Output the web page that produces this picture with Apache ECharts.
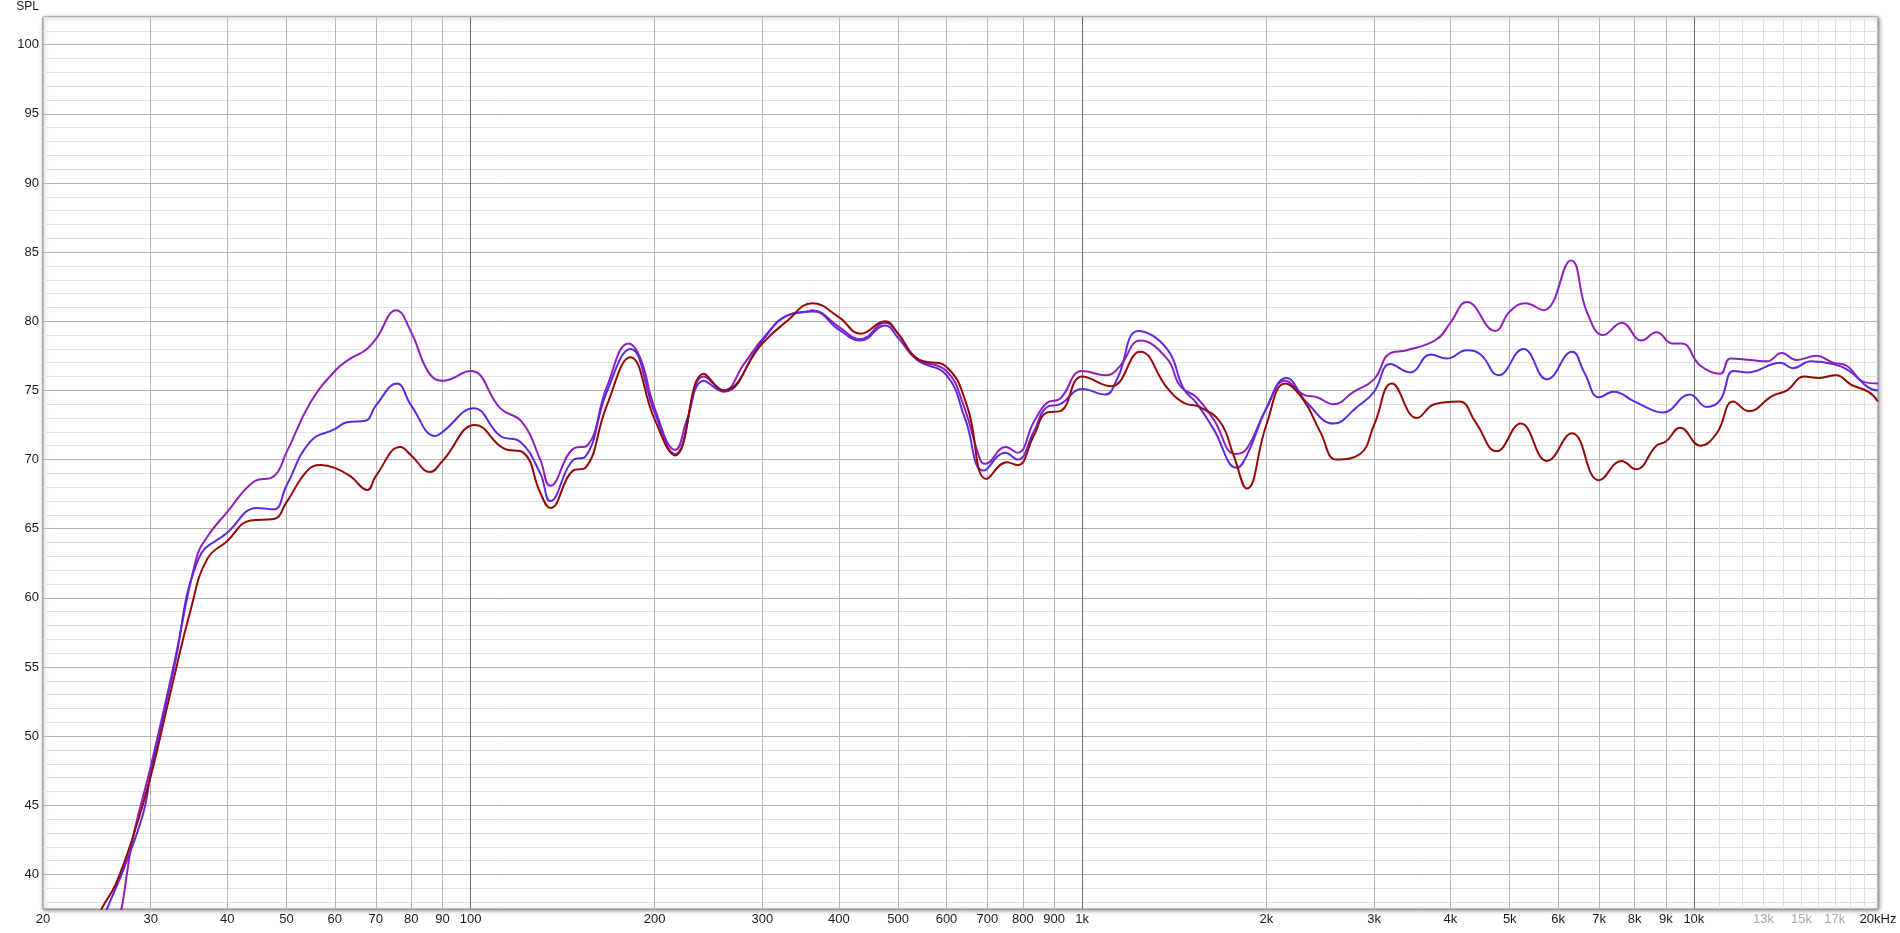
<!DOCTYPE html>
<html>
<head>
<meta charset="utf-8">
<script src="https://cdn.jsdelivr.net/npm/echarts@6/dist/echarts.min.js"></script>
<style>
html,body{margin:0;padding:0;background:#fff;}
#chart{width:1900px;height:933px;}
</style>
</head>
<body>
<div id="chart"></div>
<script>
// ---- data: [frequency Hz, SPL dB] ----
var purpleCurve = [
 [26.0,35.0],[26.9,37.6],[27.4,39.9],[28.1,42.8],[30,47.8],[32.6,54.8],[35.6,62.8],[37.1,64.4],
 [40,66.2],[44.2,68.4],[47.7,68.8],[50,70.5],[54.7,74.1],[60,76.4],[63.6,77.3],[67.3,77.9],
 [70,78.7],[75.6,80.8],[80,79.2],[85.4,76.3],[90,75.7],[100,76.4],[111.9,73.7],[121.4,72.7],
 [130,70.0],[135,68.1],[147.4,70.8],[155,71.0],[167.2,75.3],[181.4,78.4],[189.6,77.3],[200,73.7],
 [216.2,70.7],[225.9,72.9],[240.6,76.0],[259.4,75.0],[279.8,76.9],[300,78.7],[329,80.4],[355,80.7],
 [362,80.8],[400,79.6],[434,78.7],[476.6,79.9],[500,79.1],[537,77.3],[600,76.4],[640,73.9],
 [681,70.0],[694,69.7],[749,70.9],[784,70.5],[833,72.7],[876,74.1],[920,74.4],[1000,76.4],
 [1095,76.1],[1150,76.7],[1244,78.6],[1376,77.3],[1447,75.3],[1537,74.5],[1640,72.9],[1780,70.4],
 [1859,70.8],[2000,73.7],[2147,75.7],[2301,74.7],[2421,74.5],[2576,74.0],[2777,74.9],[3000,75.8],
 [3189,77.7],[3395,77.9],[3800,78.7],[4000,79.9],[4256,81.4],[4733,79.3],[5000,80.7],[5300,81.3],
 [5679,80.8],[6297,84.4],[6682,80.7],[7114,79.0],[7620,79.9],[8212,78.6],[8685,79.2],[9233,78.4],
 [9555,78.4],[10240,76.8],[11040,76.2],[11470,77.3],[12350,77.2],[13162,77.1],[13922,77.7],
 [14720,77.2],[15870,77.5],[16890,77.0],[17750,76.8],[19000,75.6],[20000,75.5]
];
var blueCurve = [
 [24.5,35.5],[25.5,37.6],[27.1,40.4],[29.2,44.5],[30,47.3],[32.7,54.8],[35.9,62.8],[40,64.7],
 [44.8,66.5],[47.7,66.4],[50,68.1],[54.7,71.3],[60,72.2],[62.8,72.7],[67.3,72.8],[70,73.9],
 [75.8,75.5],[80,73.9],[87.6,71.7],[90,72.0],[101.2,73.7],[111.9,71.7],[120.4,71.3],[130,69.0],
 [135,67.0],[147.4,70.0],[154,70.2],[167,74.9],[182.5,78.0],[200,73.4],[216,70.4],[240.6,75.7],
 [259,74.9],[300,78.6],[333,80.5],[364,80.7],[400,79.4],[434,78.6],[476,79.7],[500,78.8],
 [537,77.2],[600,76.1],[644,72.9],[690,69.2],[749,70.5],[784,70.0],[833,72.0],[876,73.8],
 [920,74.0],[1000,75.1],[1090,74.7],[1140,75.8],[1236,79.3],[1376,78.0],[1466,75.1],[1537,74.1],
 [1640,72.2],[1790,69.4],[1859,70.3],[2000,73.7],[2157,75.9],[2331,74.1],[2576,72.6],[2814,73.8],
 [3000,74.9],[3189,76.9],[3436,76.3],[3713,77.6],[3940,77.3],[4256,77.9],[4480,77.6],[4793,76.1],
 [5264,78.0],[5752,75.8],[6320,77.8],[6620,76.3],[7000,74.5],[7390,74.9],[7990,74.2],[8630,73.5],
 [8900,73.4],[9850,74.7],[10500,73.8],[11040,74.3],[11610,76.4],[12200,76.3],[13870,77.0],
 [14500,76.6],[15540,77.1],[16890,76.9],[17950,76.4],[19300,75.2],[20000,75.0]
];
var redCurve = [
 [24,35.8],[25.0,37.6],[26.3,39.3],[28.1,42.8],[30,47.1],[32.3,53.1],[34.9,59.2],[37.1,62.8],
 [40,64.1],[43.7,65.6],[47.7,65.7],[50,66.9],[54.1,69.2],[56.9,69.6],[60,69.4],[63.6,68.8],
 [67.8,67.8],[70,68.8],[76.8,70.9],[80,70.3],[85.9,69.1],[90,69.9],[101.8,72.5],[113.3,70.8],
 [122,70.5],[130,67.6],[135,66.5],[147,69.2],[154,69.4],[167,73.9],[182.5,77.4],[200,72.9],
 [216,70.3],[240.6,76.2],[259,75.0],[300,78.4],[329,80.0],[362,81.3],[400,80.3],[434,79.1],
 [476,80.0],[500,79.1],[537,77.3],[600,76.7],[648,73.9],[698,68.6],[753,69.8],[784,69.6],
 [833,71.7],[876,73.4],[920,73.5],[1000,76.0],[1115,75.3],[1244,77.8],[1376,75.2],[1466,74.1],
 [1556,73.8],[1682,72.7],[1768,70.3],[1859,67.9],[2000,72.5],[2147,75.5],[2301,74.3],[2450,72.0],
 [2606,70.0],[2846,70.4],[3000,72.5],[3210,75.5],[3525,73.0],[3765,74.0],[4136,74.2],[4395,72.7],
 [4761,70.6],[5210,72.6],[5752,69.9],[6320,71.9],[7000,68.5],[7620,69.9],[8040,69.3],[8685,71.0],
 [9000,71.3],[9500,72.3],[10240,71.0],[10900,71.9],[11600,74.2],[12290,73.5],[13440,74.6],
 [14200,75.0],[15150,76.0],[16000,75.9],[17080,76.1],[18100,75.4],[19300,74.9],[20000,74.2]
];

// ---- frequency grid ticks and labels ----
var gridFreqs = [20,30,40,50,60,70,80,90,100,200,300,400,500,600,700,800,900,
  1000,2000,3000,4000,5000,6000,7000,8000,9000,10000,
  11000,12000,13000,14000,15000,16000,17000,18000,19000,20000];
var gridLabels = ['20','30','40','50','60','70','80','90','100','200','300','400','500','600','700','800','900',
  '1k','2k','3k','4k','5k','6k','7k','8k','9k','10k',
  '','','13k','','15k','','17k','','','20kHz'];

var yMin = 37.5, yMax = 102;

// ---- styles ----
var FONT = "'Liberation Sans', Arial, sans-serif";
var FS = 13;
var minorH = '#e0e0e0', majorH = '#b4b4b4', clear = 'rgba(0,0,0,0)';

var gridLineData = gridFreqs.map(function (f, i) {
  var decade = (f === 100 || f === 1000 || f === 10000);
  var high = f > 10000;
  var edge = (f === 20 || f === 20000);
  var col = edge ? clear : (decade ? '#6e6e6e' : (high ? '#e2e2e2' : '#b6b6b6'));
  return {
    xAxis: f,
    lineStyle: { color: col, width: 1, type: 'solid' },
    label: {
      show: gridLabels[i] !== '',
      position: 'start',
      distance: 4,
      formatter: gridLabels[i],
      color: high && f !== 20000 ? '#a8a8a8' : '#1a1a1a',
      fontSize: FS,
      fontFamily: FONT
    }
  };
});

var chart = echarts.init(document.getElementById('chart'), null, { renderer: 'canvas' });
chart.setOption({
  animation: false,
  backgroundColor: '#fff',
  grid: {
    show: true, left: 43, right: 22, top: 17, bottom: 24,
    backgroundColor: '#fff', borderColor: '#8a8a8a', borderWidth: 1,
    shadowColor: 'rgba(0,0,0,0.45)', shadowBlur: 4, shadowOffsetX: 1, shadowOffsetY: 1
  },
  xAxis: {
    type: 'log', logBase: 10, min: 20, max: 20000,
    axisLine: { show: false }, axisTick: { show: false },
    axisLabel: { show: false }, splitLine: { show: false }
  },
  yAxis: {
    type: 'value', min: yMin, max: yMax, interval: 0.5,
    name: 'SPL', nameLocation: 'end', nameGap: 4,
    nameTextStyle: { color: '#1a1a1a', fontSize: 12, fontFamily: FONT, align: 'right', padding: [0, 4, 0, 0] },
    axisLine: { show: false }, axisTick: { show: false },
    axisLabel: {
      color: '#1a1a1a', fontSize: FS, fontFamily: FONT, margin: 4,
      formatter: function (v) { return Math.abs(v % 5) < 1e-6 ? String(Math.round(v)) : ''; }
    },
    splitLine: {
      show: true,
      lineStyle: { width: 1, color: [clear, minorH, clear, minorH, clear, majorH, clear, minorH, clear, minorH] }
    }
  },
  series: [
    {
      type: 'line', data: [], z: 1, silent: true,
      markLine: { silent: true, symbol: ['none', 'none'], z: 1, animation: false, data: gridLineData }
    },
    { name: 'purple', type: 'line', data: purpleCurve, smooth: 0.45, showSymbol: false, symbol: 'none', z: 3,
      lineStyle: { color: '#901fbb', width: 2 } },
    { name: 'blue', type: 'line', data: blueCurve, smooth: 0.45, showSymbol: false, symbol: 'none', z: 4,
      lineStyle: { color: '#5f2ade', width: 2 } },
    { name: 'red', type: 'line', data: redCurve, smooth: 0.45, showSymbol: false, symbol: 'none', z: 5,
      lineStyle: { color: '#950808', width: 2 } }
  ]
});
</script>
</body>
</html>
